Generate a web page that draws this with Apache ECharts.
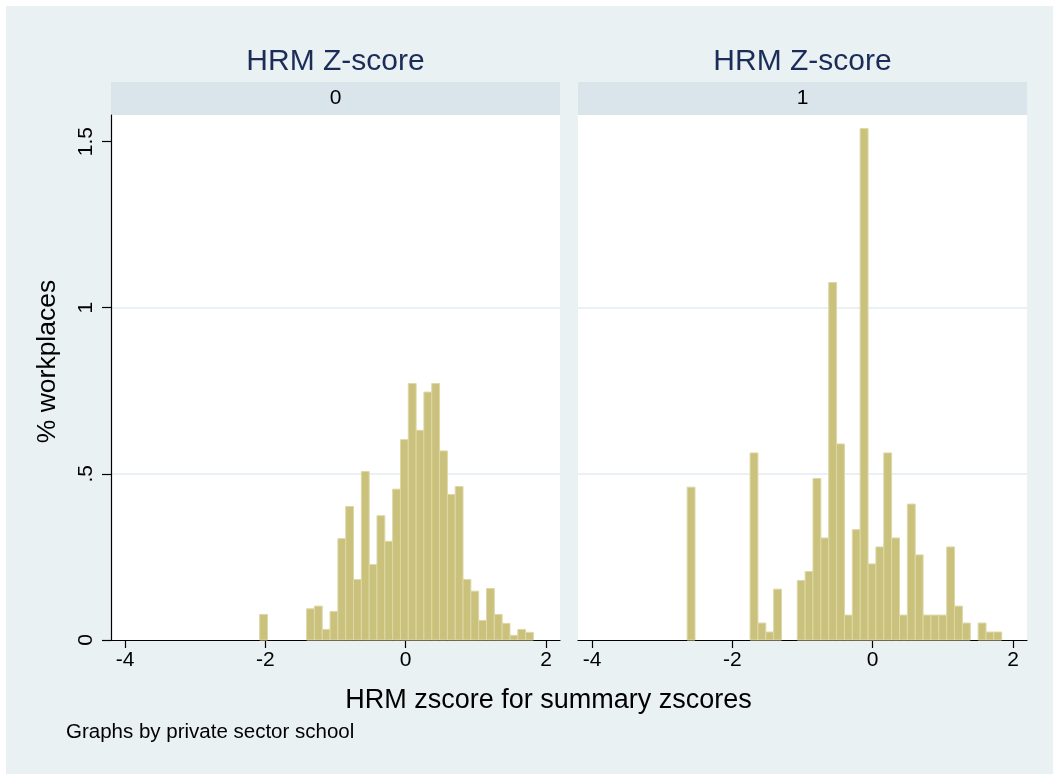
<!DOCTYPE html>
<html>
<head>
<meta charset="utf-8">
<script src="https://cdn.jsdelivr.net/npm/echarts@6/dist/echarts.min.js"></script>
<style>
html,body{margin:0;padding:0;background:#ffffff;}
#chart{width:1053px;height:774px;}
</style>
</head>
<body>
<div id="chart"></div>
<script>
// ---- data ----
const panelTitles = ['HRM Z-score', 'HRM Z-score'];
const stripLabels = ['0', '1'];
const xTicks = [-4, -2, 0, 2];
const yTicks = [0, 0.5, 1, 1.5];
const yTickLabels = ['0', '.5', '1', '1.5'];

// panel "0": histogram bin start, bin width, bin heights (% workplaces)
const leftStart = -2.081;
const leftWidth = 0.1115;
const leftHeights = [0.077, 0, 0, 0, 0, 0,
  0.094, 0.102, 0.032, 0.086, 0.305, 0.402, 0.182, 0.507, 0.227, 0.374,
  0.297, 0.454, 0.603, 0.772, 0.631, 0.746, 0.772, 0.569, 0.438, 0.462,
  0.182, 0.147, 0.059, 0.155, 0.077, 0.050, 0.014, 0.032, 0.023];

// panel "1"
const rightStart = -2.644;
const rightWidth = 0.1121;
const rightHeights = [0.460, 0, 0, 0, 0, 0, 0, 0,
  0.563, 0.051, 0.024, 0.153, 0, 0,
  0.179, 0.206, 0.486, 0.307, 1.076, 0.590, 0.075, 0.332, 1.539, 0.229,
  0.280, 0.563, 0.307, 0.075, 0.409, 0.256, 0.075, 0.075, 0.075, 0.280,
  0.102, 0.051, 0, 0.051, 0.024, 0.024];

function bins(start, width, heights) {
  return heights.map((h, i) => [start + i * width, start + (i + 1) * width, h]);
}

const FONT = 'Liberation Sans, Arial, sans-serif';
const BG = '#eaf1f3';
const STRIP = '#d9e5eb';
const BAR = '#cac17c';
const BAR_EDGE = '#ddd8a6';
const GRIDC = '#e3edf0';

const grids = [
  {left: 111, top: 115, width: 449, height: 525},
  {left: 578, top: 115, width: 449, height: 525}
];

function renderBar(params, api) {
  const h = api.value(2);
  if (!(h > 0)) return null;
  const p0 = api.coord([api.value(0), h]);
  const p1 = api.coord([api.value(1), 0]);
  return {
    type: 'rect',
    shape: {x: p0[0], y: p0[1], width: p1[0] - p0[0], height: p1[1] - p0[1]},
    style: {fill: BAR, stroke: BAR_EDGE, lineWidth: 1}
  };
}

const chart = echarts.init(document.getElementById('chart'), null, {renderer: 'canvas'});

const xAxes = grids.map((g, i) => ({
  type: 'value', gridIndex: i, min: -4.2, max: 2.2,
  axisLine: {show: true, onZero: false, lineStyle: {color: '#000', width: 1.2}},
  axisTick: {show: true, length: 8, customValues: xTicks, lineStyle: {color: '#000', width: 1.2}},
  axisLabel: {show: true, customValues: xTicks, margin: 10, fontFamily: FONT, fontSize: 21, color: '#000',
    formatter: v => String(v)},
  splitLine: {show: false}
}));

const yAxes = grids.map((g, i) => ({
  type: 'value', gridIndex: i, min: 0, max: 1.58, interval: 0.5,
  axisLine: {show: i === 0, onZero: false, lineStyle: {color: '#000', width: 1.2}},
  axisTick: {show: i === 0, length: 9, customValues: yTicks, lineStyle: {color: '#000', width: 1.2}},
  axisLabel: {show: i === 0, customValues: yTicks, rotate: 90, margin: 14, fontFamily: FONT, fontSize: 21, color: '#000',
    formatter: v => yTickLabels[yTicks.indexOf(v)] ?? ''},
  splitLine: {show: true, showMinLine: false, showMaxLine: false, lineStyle: {color: GRIDC, width: 1.5}}
}));

const graphics = [
  {type: 'rect', shape: {x: 6, y: 6, width: 1100, height: 800}, style: {fill: BG}, z: -10, silent: true}
];
grids.forEach((g, i) => {
  graphics.push({type: 'rect', shape: {x: g.left, y: 82, width: g.width, height: 33}, style: {fill: STRIP}, z: -5, silent: true});
  graphics.push({type: 'text', x: g.left + g.width / 2, y: 98.5,
    style: {text: stripLabels[i], fontFamily: FONT, fontSize: 21, fill: '#000', align: 'center', verticalAlign: 'middle'}});
  graphics.push({type: 'text', x: g.left + g.width / 2, y: 62,
    style: {text: panelTitles[i], fontFamily: FONT, fontSize: 30, fill: '#1c2c58', align: 'center', verticalAlign: 'middle'}});
});
graphics.push({type: 'text', x: 548.5, y: 701,
  style: {text: 'HRM zscore for summary zscores', fontFamily: FONT, fontSize: 27, fill: '#000', align: 'center', verticalAlign: 'middle'}});
graphics.push({type: 'text', x: 47.5, y: 361.5, rotation: Math.PI / 2,
  style: {text: '% workplaces', fontFamily: FONT, fontSize: 26.5, fill: '#000', align: 'center', verticalAlign: 'middle'}});
graphics.push({type: 'text', x: 66, y: 732,
  style: {text: 'Graphs by private sector school', fontFamily: FONT, fontSize: 20.5, fill: '#000', align: 'left', verticalAlign: 'middle'}});

chart.setOption({
  animation: false,
  backgroundColor: '#ffffff',
  grid: grids.map(g => Object.assign({show: true, backgroundColor: '#ffffff', borderWidth: 0, containLabel: false}, g)),
  xAxis: xAxes,
  yAxis: yAxes,
  graphic: graphics,
  series: [
    {type: 'custom', xAxisIndex: 0, yAxisIndex: 0, renderItem: renderBar,
      encode: {x: [0, 1], y: 2}, data: bins(leftStart, leftWidth, leftHeights)},
    {type: 'custom', xAxisIndex: 1, yAxisIndex: 1, renderItem: renderBar,
      encode: {x: [0, 1], y: 2}, data: bins(rightStart, rightWidth, rightHeights)}
  ]
});
</script>
</body>
</html>
